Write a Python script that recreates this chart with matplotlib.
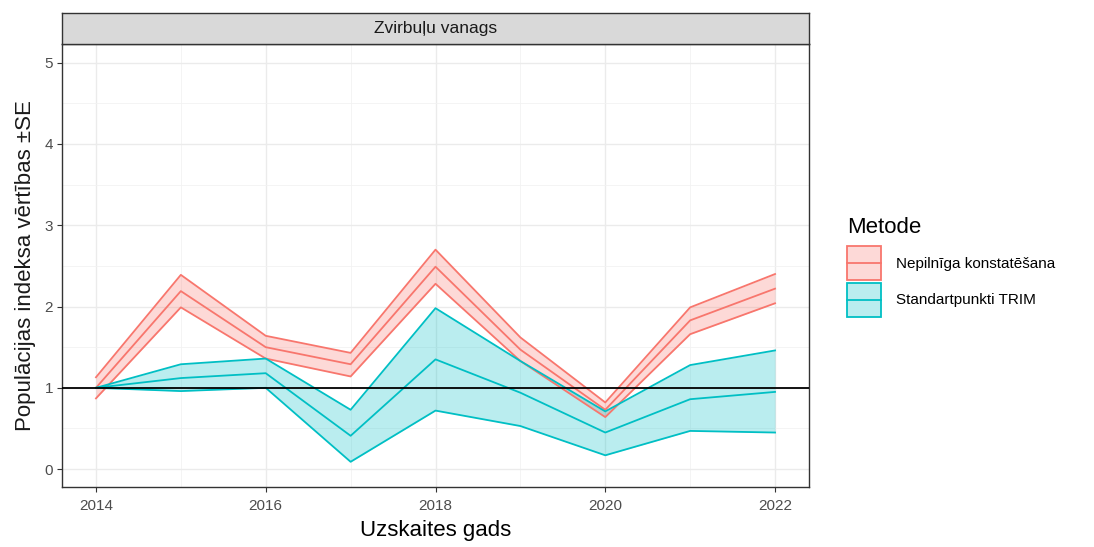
import matplotlib
matplotlib.use("Agg")
import matplotlib.pyplot as plt
from matplotlib.patches import Patch, Rectangle
from matplotlib.lines import Line2D
from matplotlib.legend_handler import HandlerBase

plt.rcParams['font.family'] = ['Liberation Sans', 'DejaVu Sans']

years = [2014, 2015, 2016, 2017, 2018, 2019, 2020, 2021, 2022]

# Nepilnīga konstatēšana
nep_mid = [1.00, 2.19, 1.50, 1.29, 2.49, 1.47, 0.73, 1.83, 2.22]
nep_lo = [0.87, 1.99, 1.36, 1.14, 2.28, 1.33, 0.64, 1.66, 2.04]
nep_hi = [1.13, 2.39, 1.64, 1.43, 2.70, 1.62, 0.82, 1.99, 2.40]

# Standartpunkti TRIM
trim_mid = [1.00, 1.12, 1.18, 0.41, 1.35, 0.94, 0.45, 0.86, 0.95]
trim_lo = [1.00, 0.96, 1.00, 0.09, 0.72, 0.53, 0.17, 0.47, 0.45]
trim_hi = [1.00, 1.29, 1.36, 0.73, 1.98, 1.33, 0.71, 1.28, 1.46]

series_names = ["Nepilnīga konstatēšana", "Standartpunkti TRIM"]
colors = ["#F8766D", "#00BFC4"]


class RibbonKey(HandlerBase):
    # filled box with outline and a line through the middle, like ggplot
    def create_artists(self, legend, orig_handle, xdescent, ydescent,
                       width, height, fontsize, trans):
        c = orig_handle.get_edgecolor()
        x0, y0 = -xdescent, -ydescent
        fill = Rectangle((x0, y0), width, height, facecolor=c, alpha=0.27,
                         edgecolor="none", transform=trans)
        edge = Rectangle((x0, y0), width, height, facecolor="none",
                         edgecolor=c, lw=1.3, transform=trans)
        mid = Line2D([x0, x0 + width], [y0 + height / 2] * 2, color=c,
                     lw=1.3, transform=trans)
        return [fill, edge, mid]


fig = plt.figure(figsize=(10.94, 5.47), dpi=100)
W, H = 1094, 547
ax = fig.add_axes([62 / W, 1 - 487 / H, (809 - 62) / W, (487 - 44) / H])

for mid, lo, hi, c in [(nep_mid, nep_lo, nep_hi, colors[0]),
                       (trim_mid, trim_lo, trim_hi, colors[1])]:
    ax.fill_between(years, lo, hi, color=c, alpha=0.27, lw=0, zorder=2)
    ax.plot(years, lo, color=c, lw=1.3, zorder=3)
    ax.plot(years, hi, color=c, lw=1.3, zorder=3)
    ax.plot(years, mid, color=c, lw=1.3, zorder=3)

ax.axhline(1, color="black", lw=1.3, zorder=4)

ax.set_xlim(2013.6, 2022.4)
ax.set_ylim(-0.22, 5.23)
ax.set_xticks([2014, 2016, 2018, 2020, 2022])
ax.set_xticks([2015, 2017, 2019, 2021], minor=True)
ax.set_yticks([0, 1, 2, 3, 4, 5])
ax.set_yticks([0.5, 1.5, 2.5, 3.5, 4.5], minor=True)
ax.grid(which="major", color="#EBEBEB", lw=1.0, zorder=0)
ax.grid(which="minor", color="#F2F2F2", lw=0.6, zorder=0)
ax.set_axisbelow(True)
ax.tick_params(which="major", length=3.5, color="#333333", labelsize=11,
               labelcolor="#4D4D4D", width=0.8)
ax.tick_params(axis="x", which="major", pad=5)
ax.tick_params(axis="y", which="major", pad=3)
ax.tick_params(which="minor", length=0)
for s in ax.spines.values():
    s.set_color("#333333")
    s.set_linewidth(1.0)

ax.set_xlabel("Uzskaites gads", fontsize=16, labelpad=5)
ax.set_ylabel("Populācijas indeksa vērtības ±SE", fontsize=16, labelpad=6,
              color="#1A1A1A")

# facet strip
strip = fig.add_axes([62 / W, 1 - 44 / H, (809 - 62) / W, (44 - 13) / H])
strip.set_xticks([])
strip.set_yticks([])
strip.set_facecolor("#D9D9D9")
for s in strip.spines.values():
    s.set_color("#333333")
    s.set_linewidth(1.0)
strip.text(0.5, 0.5, "Zvirbuļu vanags", ha="center", va="center",
           fontsize=12.5, color="#1A1A1A", transform=strip.transAxes)

handles = [Patch(edgecolor=c, facecolor=c) for c in colors]
leg = fig.legend(handles, series_names, title="Metode", loc="upper left",
                 bbox_to_anchor=(847 / W, 1 - 217 / H), frameon=False,
                 fontsize=11, title_fontsize=16, handlelength=2.2,
                 handleheight=3.05, labelspacing=0.15, handletextpad=1.0,
                 borderaxespad=0, borderpad=0,
                 handler_map={Patch: RibbonKey()})
leg._legend_box.align = "left"
leg._legend_box.sep = 6

fig.savefig("out.png", dpi=100)
